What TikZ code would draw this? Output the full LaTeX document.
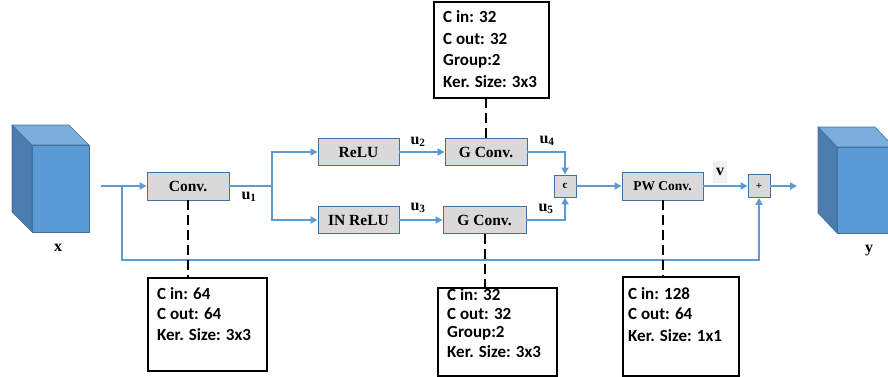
\documentclass[tikz,border=0pt]{standalone}
\usepackage{fontspec}
\setmainfont{Liberation Serif}
\newfontfamily\infofont{Carlito}
\usetikzlibrary{arrows.meta}
\definecolor{flow}{HTML}{5B9BD5}
\definecolor{edge}{HTML}{41719C}
\definecolor{cubefront}{HTML}{5B9BD5}
\definecolor{cubetop}{HTML}{7BADDD}
\definecolor{cubeside}{HTML}{4A7DAE}
\definecolor{opfill}{HTML}{D9D9D9}
\tikzset{
  opbox/.style={draw=edge, line width=0.9pt, fill=opfill, inner sep=0pt,
    font=\fontsize{15.5}{17}\selectfont\bfseries},
  smallop/.style={opbox, minimum width=22pt, minimum height=22pt,
    font=\fontsize{11}{12}\selectfont\bfseries},
  infobox/.style={draw=black, line width=1.8pt, fill=white, anchor=north west,
    inner sep=0pt},
  infotext/.style={anchor=west, inner sep=0pt,
    font=\infofont\fontsize{17}{19}\selectfont\bfseries},
  flowline/.style={draw=flow, line width=2.2pt},
  flowarrow/.style={flowline, -{Triangle[length=7pt,width=7pt]}},
  tieline/.style={draw=black, line width=2pt, dash pattern=on 10pt off 5pt},
  varlabel/.style={inner sep=0pt, font=\fontsize{16}{18}\selectfont\bfseries},
  cubeline/.style={draw=edge, line width=0.6pt, line join=round}
}
\begin{document}
\begin{tikzpicture}[x=1pt, y=-1pt]
\useasboundingbox (0,0) rectangle (888,376);
\clip (0,0) rectangle (888,376);

% input tensor
\filldraw[cubeline, fill=cubetop] (12,125) -- (69,125) -- (89,145) -- (32,145) -- cycle;
\filldraw[cubeline, fill=cubeside] (12,125) -- (32,145) -- (32,232) -- (12,212) -- cycle;
\filldraw[cubeline, fill=cubefront] (32,145) rectangle (89,232);
\node[varlabel] (xlab) at (58,248) {x};

% output tensor
\filldraw[cubeline, fill=cubetop] (818,127) -- (875,127) -- (894,147) -- (837,147) -- cycle;
\filldraw[cubeline, fill=cubeside] (818,127) -- (837,147) -- (837,233) -- (818,213) -- cycle;
\filldraw[cubeline, fill=cubefront] (837,147) rectangle (894,233);
\node[varlabel] (ylab) at (869,251) {y};

% operation blocks
\node[opbox, minimum width=82pt, minimum height=28pt] (conv) at (188,186) {Conv.};
\node[opbox, minimum width=81pt, minimum height=27pt] (relu) at (358.5,152) {ReLU};
\node[opbox, minimum width=81pt, minimum height=27pt] (inrelu) at (358.5,220) {IN ReLU};
\node[opbox, minimum width=82pt, minimum height=27pt] (gconvA) at (486,152) {G Conv.};
\node[opbox, minimum width=83pt, minimum height=27pt] (gconvB) at (484.5,220) {G Conv.};
\node[smallop] (cat) at (565,186) {c};
\node[opbox, minimum width=81pt, minimum height=28pt,
      font=\fontsize{13.5}{15}\selectfont\bfseries] (pw) at (662.5,186) {PW Conv.};
\node[smallop, minimum height=23pt] (plus) at (759,186) {+};

% flow
\coordinate (in) at (101,186);
\coordinate (skip) at (122,186);
\coordinate (split) at (272,186);
\coordinate (skipbottom) at (122,260);
\coordinate (out) at (797,186);

\draw[flowarrow] (in) -- (conv.west);
\draw[flowline] (conv.east) -- (split);
\draw[flowarrow] (split) |- (relu.west);
\draw[flowarrow] (split) |- (inrelu.west);
\draw[flowarrow] (relu) -- (gconvA);
\draw[flowarrow] (inrelu) -- (gconvB);
\draw[flowarrow] (gconvA.east) -| (cat.north);
\draw[flowarrow] (gconvB.east) -| (cat.south);
\draw[flowarrow] (cat) -- (pw);
\draw[flowarrow] (pw) -- (plus);
\draw[flowarrow] (plus.east) -- (out);
\draw[flowarrow] (skip) -- (skipbottom) -| (plus.south);

% variable names
\node[varlabel] (u1) at (249,197) {u\textsubscript{1}};
\node[varlabel] (u2) at (418,142) {u\textsubscript{2}};
\node[varlabel] (u3) at (418,208) {u\textsubscript{3}};
\node[varlabel] (u4) at (547,141) {u\textsubscript{4}};
\node[varlabel] (u5) at (546,209) {u\textsubscript{5}};
\node[varlabel, fill=black!6, minimum width=14pt, minimum height=22pt] (v) at (720,172) {v};

% parameter boxes
\node[infobox, minimum width=119pt, minimum height=93pt] (infoconv) at (147,277) {};
\node[infotext] at (157,294) {C in: 64};
\node[infotext] at (157,314) {C out: 64};
\node[infotext] at (157,335) {Ker. Size: 3x3};

\node[infobox, minimum width=115pt, minimum height=96pt] (infotop) at (433,1) {};
\node[infotext] at (443,17) {C in: 32};
\node[infotext] at (443,39) {C out: 32};
\node[infotext] at (443,61) {Group:2};
\node[infotext] at (443,82) {Ker. Size: 3x3};

\node[infobox, minimum width=119pt, minimum height=88pt] (infobottom) at (437,287) {};
\node[infotext] at (447,295) {C in: 32};
\node[infotext] at (447,314) {C out: 32};
\node[infotext] at (447,333) {Group:2};
\node[infotext] at (447,352) {Ker. Size: 3x3};

\node[infobox, minimum width=116pt, minimum height=99pt] (infopw) at (622,276) {};
\node[infotext] at (628,294) {C in: 128};
\node[infotext] at (628,314) {C out: 64};
\node[infotext] at (628,336) {Ker. Size: 1x1};

% ties between blocks and their parameters
\draw[tieline] (conv.south) -- (conv.south |- infoconv.north);
\draw[tieline] (gconvA.north) -- (gconvA.north |- infotop.south);
\draw[tieline] (gconvB.south) -- (gconvB.south |- infobottom.north);
\draw[tieline] (pw.south) -- (pw.south |- infopw.north);
\end{tikzpicture}
\end{document}
